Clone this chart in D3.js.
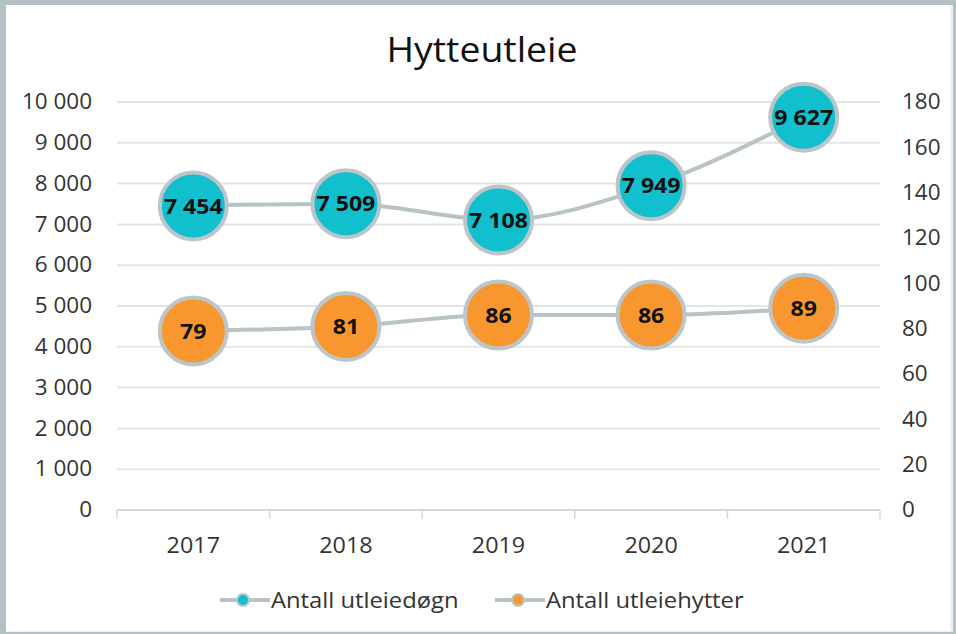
<!DOCTYPE html>
<html>
<head>
<meta charset="utf-8">
<script src="https://cdn.jsdelivr.net/npm/d3@7"></script>
<style>
  html, body { margin: 0; padding: 0; background: #fff; }
  svg { display: block; font-family: "Open Sans", sans-serif; }
</style>
</head>
<body>
<svg id="chart" width="956" height="634"></svg>
<script>
// data
var years = ["2017", "2018", "2019", "2020", "2021"];
var utleiedogn = [7454, 7509, 7108, 7949, 9627];
var utleiehytter = [79, 81, 86, 86, 89];
var leftTicks = [0, 1000, 2000, 3000, 4000, 5000, 6000, 7000, 8000, 9000, 10000];
var rightTicks = [0, 20, 40, 60, 80, 100, 120, 140, 160, 180];
var seriesNames = ["Antall utleiedøgn", "Antall utleiehytter"];

var svg = d3.select("#chart"),
    width = +svg.attr("width"),
    height = +svg.attr("height");

var margin = {top: 102, right: 76, bottom: 124, left: 117};

var teal = "#12bfcd", orange = "#f8972f", ringGray = "#bcc6ca", lineGray = "#b9c2c6";

// the original text is a bit wider than Open Sans, stretch it a little
function widen(sel, k) {
  sel.each(function() {
    var w = this.getComputedTextLength();
    d3.select(this).attr("textLength", w * k).attr("lengthAdjust", "spacingAndGlyphs");
  });
}

// frame
svg.append("rect").attr("x", 0).attr("y", 0).attr("width", width).attr("height", height).attr("fill", "#b5c0c4");
svg.append("rect").attr("x", 6).attr("y", 5).attr("width", width - 9).attr("height", height - 7).attr("fill", "#edf0f1");
svg.append("rect").attr("x", 6).attr("y", 5).attr("width", width - 12).attr("height", height - 8).attr("fill", "#fff");

var x = d3.scaleBand()
    .domain(years)
    .range([margin.left, width - margin.right]);

var yL = d3.scaleLinear().domain([0, 10000]).range([height - margin.bottom, margin.top]);
var yR = d3.scaleLinear().domain([0, 180]).range([height - margin.bottom, margin.top]);

var fmt = function(v) { return d3.format(",")(v).replace(/,/g, " "); };

// title
svg.append("text")
    .attr("x", 482).attr("y", 62)
    .attr("text-anchor", "middle")
    .attr("font-size", 34)
    .attr("fill", "#111")
    .text("Hytteutleie")
    .call(widen, 1.1);

// gridlines
svg.append("g")
  .selectAll("line")
  .data(leftTicks.slice(1))
  .enter().append("line")
    .attr("x1", margin.left).attr("x2", width - margin.right)
    .attr("y1", d => yL(d)).attr("y2", d => yL(d))
    .attr("stroke", "#e3e5e6").attr("stroke-width", 2);

// left axis
var axL = svg.append("g")
    .attr("transform", "translate(" + (margin.left - 22) + ",0)")
    .call(d3.axisLeft(yL).tickValues(leftTicks).tickFormat(fmt).tickSize(0));
axL.select(".domain").remove();
axL.selectAll("text").attr("font-size", 21).attr("fill", "#333").attr("font-family", "Open Sans")
    .call(widen, 1.07);

// right axis
var axR = svg.append("g")
    .attr("transform", "translate(" + (width - margin.right + 19) + ",0)")
    .call(d3.axisRight(yR).tickValues(rightTicks).tickSize(0));
axR.select(".domain").remove();
axR.selectAll("text").attr("font-size", 21).attr("fill", "#333").attr("font-family", "Open Sans")
    .call(widen, 1.07);

// bottom axis
var axB = svg.append("g")
    .attr("transform", "translate(0," + yL(0) + ")");
axB.append("line")
    .attr("x1", margin.left).attr("x2", width - margin.right)
    .attr("stroke", "#d6d9da").attr("stroke-width", 2);
axB.selectAll("line.tick")
  .data(years.concat(["end"]))
  .enter().append("line")
    .attr("class", "tick")
    .attr("x1", (d, i) => margin.left + i * x.bandwidth())
    .attr("x2", (d, i) => margin.left + i * x.bandwidth())
    .attr("y1", 0).attr("y2", 9)
    .attr("stroke", "#d6d9da").attr("stroke-width", 1.5);
axB.selectAll("text")
  .data(years)
  .enter().append("text")
    .attr("x", d => x(d) + x.bandwidth() / 2)
    .attr("y", 43)
    .attr("text-anchor", "middle")
    .attr("font-size", 22).attr("fill", "#333")
    .text(d => d)
    .call(widen, 1.06);

var cx = function(d, i) { return x(years[i]) + x.bandwidth() / 2; };

function drawSeries(values, scale, fill) {
  var line = d3.line()
      .x(cx)
      .y(d => scale(d))
      .curve(d3.curveMonotoneX);
  svg.append("path")
      .datum(values)
      .attr("d", line)
      .attr("fill", "none")
      .attr("stroke", lineGray)
      .attr("stroke-width", 4);
  var g = svg.append("g").selectAll("g")
    .data(values)
    .enter().append("g")
      .attr("transform", (d, i) => "translate(" + cx(d, i) + "," + scale(d) + ")");
  g.append("circle")
      .attr("r", 33.5)
      .attr("fill", fill)
      .attr("stroke", ringGray)
      .attr("stroke-width", 4);
  g.append("text")
      .attr("text-anchor", "middle")
      .attr("dy", "0.35em")
      .attr("font-size", 22)
      .attr("font-weight", "bold")
      .attr("fill", "#111")
      .text(d => fmt(d))
      .call(widen, 1.05);
}

drawSeries(utleiedogn, yL, teal);
drawSeries(utleiehytter, yR, orange);

// legend
var legendPos = [220, 495];
var legend = svg.append("g").selectAll("g")
  .data(seriesNames)
  .enter().append("g")
    .attr("transform", (d, i) => "translate(" + legendPos[i] + ",600)");
legend.append("line")
    .attr("x1", 0).attr("x2", 50)
    .attr("stroke", lineGray).attr("stroke-width", 4);
legend.append("circle")
    .attr("cx", 23).attr("r", 6)
    .attr("fill", (d, i) => i === 0 ? teal : orange)
    .attr("stroke", ringGray).attr("stroke-width", 2);
legend.append("text")
    .attr("x", 51).attr("dy", "0.35em")
    .attr("font-size", 22).attr("fill", "#333")
    .text(d => d)
    .call(widen, 1.08);
</script>
</body>
</html>
